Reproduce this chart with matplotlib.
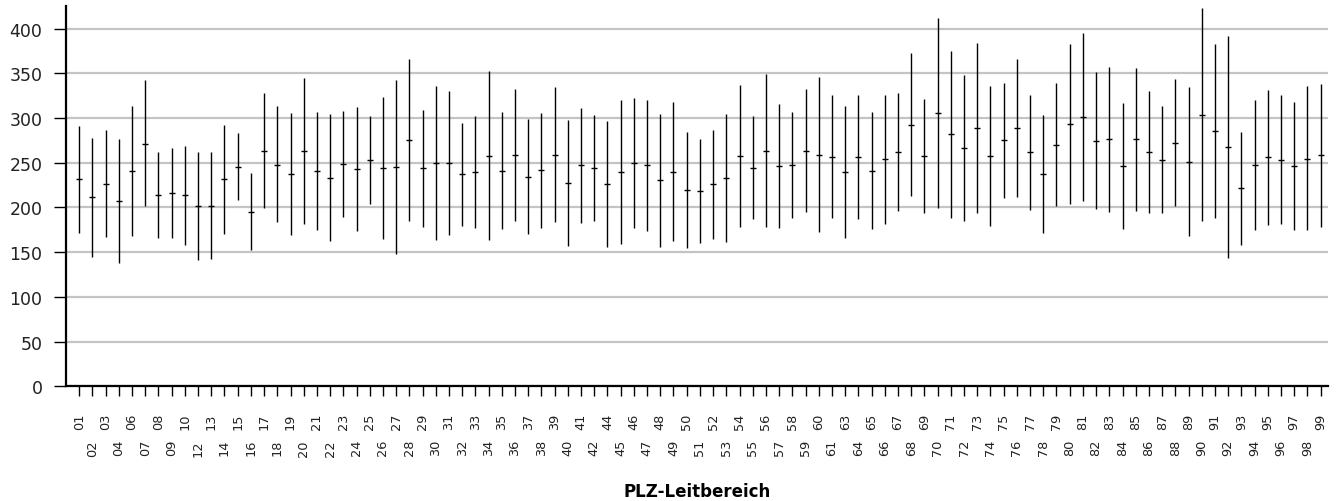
import matplotlib
matplotlib.use("Agg")
import matplotlib.pyplot as plt
import numpy as np

categories = ["01","02","03","04","06","07","08","09","10","12","13","14","15","16","17","18","19","20",
              "21","22","23","24","25","26","27","28","29","30","31","32","33","34","35","36","37","38",
              "39","40","41","42","44","45","46","47","48","49","50","51","52","53","54","55","56","57",
              "58","59","60","61","63","64","65","66","67","68","69","70","71","72","73","74","75","76",
              "77","78","79","80","81","82","83","84","85","86","87","88","89","90","91","92","93","94",
              "95","96","97","98","99"]

mean_values = [231.7,211.2,226.8,206.7,240.6,271.5,213.4,216.4,213.4,201.5,201.9,231.3,245.8,195.5,
               263.7,248.0,236.9,263.7,240.6,233.1,248.8,242.5,253.3,243.9,245.4,275.6,243.9,249.5,
               249.5,237.2,239.9,257.7,241.3,258.8,234.3,241.7,259.2,227.2,247.3,244.3,226.4,239.9,
               249.9,247.3,230.5,239.9,219.4,218.6,225.7,232.8,257.7,244.7,263.7,246.6,247.3,263.7,
               259.2,257.0,239.9,256.2,241.0,254.0,262.6,292.7,257.7,306.1,281.9,266.3,288.6,258.1,
               275.2,289.0,261.8,238.0,270.4,293.9,300.9,274.9,276.7,246.6,276.7,261.8,253.6,272.6,
               251.0,303.9,285.7,267.8,221.6,247.3,255.9,253.6,246.2,254.7,258.8]

low_values = [171.7,144.9,166.9,137.4,168.3,201.1,165.7,165.7,158.3,140.8,142.6,170.6,208.2,152.7,
              199.3,183.6,168.7,181.8,174.7,162.0,189.6,173.2,203.4,164.6,148.2,184.4,178.4,163.1,
              168.7,179.5,176.9,163.5,175.8,184.4,169.8,177.3,183.2,156.4,182.9,185.1,155.3,159.4,
              176.9,173.6,155.7,162.0,154.2,159.8,165.0,161.3,178.0,187.0,177.7,176.5,187.7,194.8,
              172.1,187.7,166.1,186.6,175.4,181.8,196.6,213.0,193.3,199.6,188.5,184.7,193.3,179.5,
              210.8,211.9,197.4,171.7,201.1,204.1,207.1,198.1,195.2,175.8,196.6,193.3,193.3,201.1,
              167.6,184.7,188.5,143.4,158.3,174.3,180.6,181.0,174.7,174.3,178.0]

high_values = [291.2,277.5,286.4,276.4,313.2,342.3,261.8,267.0,268.5,262.2,261.8,292.0,283.1,238.4,
               328.1,313.2,305.4,345.3,306.9,304.3,307.6,312.1,302.8,323.3,342.6,366.5,309.5,336.3,
               330.0,295.0,302.8,352.3,306.5,333.0,298.7,305.4,334.8,298.0,311.0,303.9,297.2,319.9,
               322.2,320.3,305.0,317.7,284.2,277.1,286.4,304.7,337.1,302.4,349.0,315.8,306.5,332.6,
               346.0,326.3,313.6,325.5,306.5,326.3,328.5,372.8,321.8,411.9,375.0,347.9,383.6,336.3,
               338.9,365.7,326.3,303.9,338.9,383.2,394.8,351.2,357.5,316.6,356.4,330.4,313.6,343.4,
               334.5,422.7,382.5,391.8,284.2,319.9,331.1,326.3,317.7,335.6,338.6]

y_ticks = [0, 50, 100, 150, 200, 250, 300, 350, 400]
x_label = "PLZ-Leitbereich"

plt.rcParams['font.family'] = ['DejaVu Sans']

fig = plt.figure(figsize=(13.36, 5.02), dpi=100)
ax = fig.add_axes([66/1336, 1-387.3/502, (1328-66)/1336, (387.3-7.3)/502])

x = np.arange(len(categories))
mean = np.array(mean_values)
low = np.array(low_values)
high = np.array(high_values)

ax.errorbar(x, mean, yerr=[mean - low, high - mean], fmt='_', color='black',
            ecolor='black', elinewidth=1.0, capsize=0, markersize=3.8,
            markeredgewidth=1.0, zorder=3)

ax.set_ylim(0, 425)
ax.set_xlim(-1, len(categories) - 0.44)
ax.set_yticks(y_ticks)
ax.set_yticklabels([str(v) for v in y_ticks], fontsize=12.5, color='#222222')
ax.yaxis.grid(True, color='#c4c4c4', linewidth=1.6, zorder=0)
ax.set_axisbelow(True)

ax.set_xticks(x)
ax.set_xticklabels(categories, rotation=90, fontsize=9.3, color='#222222')
for i, t in enumerate(ax.xaxis.get_major_ticks()):
    t.set_pad(12 if i % 2 == 0 else 31)

ax.tick_params(axis='x', length=7, width=1.0, color='black')
ax.tick_params(axis='y', length=9, width=1.0, color='black', pad=8)

for s in ['top', 'right']:
    ax.spines[s].set_visible(False)
for s in ['left', 'bottom']:
    ax.spines[s].set_linewidth(1.6)
    ax.spines[s].set_color('black')

fig.text((66 + 1328) / 2 / 1336, 1 - 492/502, x_label, ha='center', va='center',
         fontsize=12, fontweight='bold', color='black')

fig.savefig("out.png", dpi=100)
